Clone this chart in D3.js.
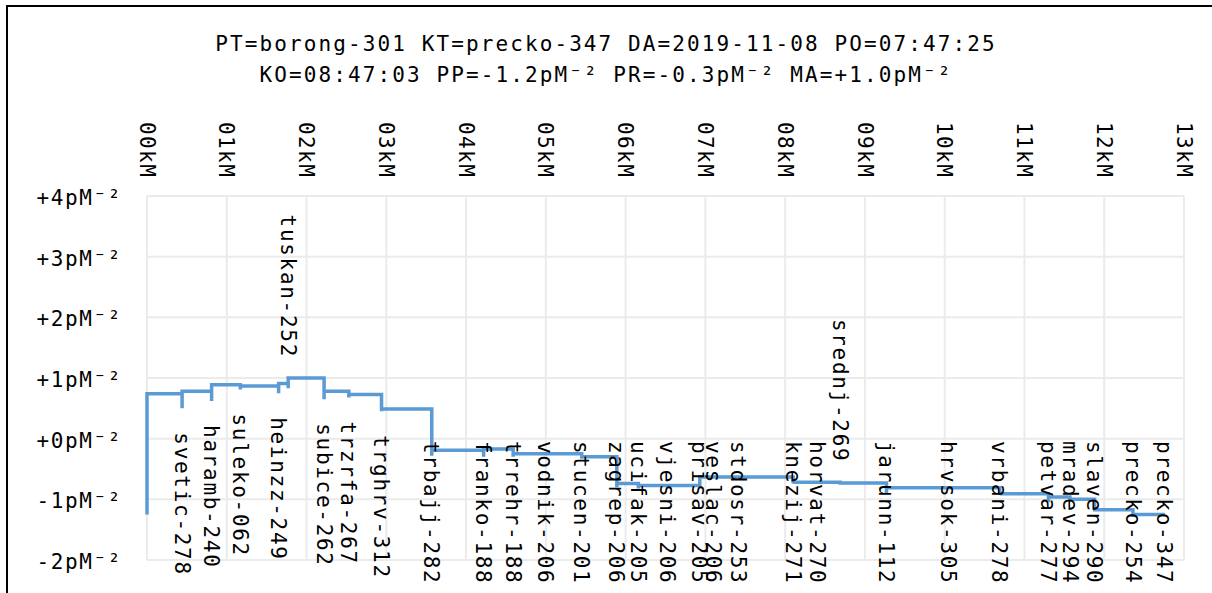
<!DOCTYPE html>
<html>
<head>
<meta charset="utf-8">
<script src="https://cdn.jsdelivr.net/npm/d3@7"></script>
<style>
  body { margin: 0; background: #fff; }
  text { font-family: "DejaVu Sans Mono", monospace; fill: #000; }
</style>
</head>
<body>
<script>
const titleLines = [
  'PT=borong-301 KT=precko-347 DA=2019-11-08 PO=07:47:25',
  'KO=08:47:03 PP=-1.2pM⁻² PR=-0.3pM⁻² MA=+1.0pM⁻²'
]

// start of the run (borong-301)
const startKm = 0
const startValue = -1.25
const startLevel = 0.74

const stations = ['svetic-278', 'haramb-240', 'suleko-062', 'heinzz-249', 'tuskan-252',
  'subice-262', 'trzrfa-267', 'trghrv-312', 'trbajj-282', 'franko-188', 'trrehr-188',
  'vodnik-206', 'stucen-201', 'zagrep-206', 'ucifak-205', 'vjesni-206', 'prisav-205',
  'veslac-206', 'stdosr-253', 'knezij-271', 'horvat-270', 'srednj-269', 'jarunn-112',
  'hrvsok-305', 'vrbani-278', 'petvar-277', 'mradev-294', 'slaven-290', 'precko-254',
  'precko-347']
const stationKm = [0.44, 0.81, 1.17, 1.65, 1.77, 2.22, 2.53, 2.94, 3.57, 4.22, 4.59,
  4.99, 5.45, 5.89, 6.16, 6.52, 6.93, 7.10, 7.41, 8.10, 8.40, 8.69, 9.27,
  10.04, 10.69, 11.30, 11.57, 11.88, 12.36, 12.76]
const stationDip = [0.50, 0.62, 0.81, 0.75, 0.83, 0.65, 0.68, 0.45, -0.28, -0.30, -0.30,
  -0.25, -0.33, -0.80, -0.82, -0.77, -0.80, -0.63, -0.63, -0.74, -0.72, -0.73, -0.90,
  -0.81, -0.93, -1.05, -1.00, -1.17, -1.29, -1.25]
const stationLevel = [0.78, 0.89, 0.87, 0.91, 1.00, 0.78, 0.73, 0.49, -0.19, -0.17, -0.25,
  -0.25, -0.30, -0.74, -0.77, -0.77, -0.63, -0.63, -0.63, -0.72, -0.72, -0.73, -0.81,
  -0.81, -0.91, -0.96, -1.00, -1.17, -1.25, -1.25]
const aboveLabels = ['tuskan-252', 'srednj-269']

const xTicks = [0, 1, 2, 3, 4, 5, 6, 7, 8, 9, 10, 11, 12, 13]
const yTicks = [-2, -1, 0, 1, 2, 3, 4]

const width = 1212
const height = 593
const plot = { left: 147, right: 1184, top: 196, bottom: 560 }
const fontSize = 21

const svg = d3.select('body').append('svg')
  .attr('width', width)
  .attr('height', height)

const xScale = d3.scaleLinear()
  .domain([0, 13])
  .range([plot.left, plot.right])

const yScale = d3.scaleLinear()
  .domain([-2, 4])
  .range([plot.bottom, plot.top])

// outer frame (only top and left fall inside the window)
svg.append('path')
  .attr('d', `M7,${height} V6 H${width}`)
  .attr('fill', 'none')
  .attr('stroke', '#000')
  .attr('stroke-width', 2)

// title
svg.append('g').selectAll('text')
  .data(titleLines)
  .join('text')
  .attr('x', width / 2)
  .attr('y', (d, i) => 51 + i * 31)
  .attr('text-anchor', 'middle')
  .style('font-size', fontSize + 'px')
  .style('letter-spacing', '2.1px')
  .text(d => d)

// grid
const grid = svg.append('g')
  .attr('stroke', '#ebebeb')
  .attr('stroke-width', 2)

grid.selectAll('.vgrid')
  .data(xTicks)
  .join('line')
  .attr('class', 'vgrid')
  .attr('x1', d => xScale(d))
  .attr('x2', d => xScale(d))
  .attr('y1', plot.top)
  .attr('y2', plot.bottom)

grid.selectAll('.hgrid')
  .data(yTicks)
  .join('line')
  .attr('class', 'hgrid')
  .attr('x1', plot.left)
  .attr('x2', plot.right)
  .attr('y1', d => yScale(d))
  .attr('y2', d => yScale(d))

// top axis labels, rotated
const kmFormat = d => d3.format('02d')(d) + 'kM'
svg.append('g').selectAll('text')
  .data(xTicks)
  .join('text')
  .attr('transform', d => `translate(${xScale(d)}, 122) rotate(90)`)
  .attr('dy', '0.35em')
  .style('font-size', fontSize + 'px')
  .style('letter-spacing', '1.4px')
  .text(kmFormat)

// left axis labels
const pmFormat = d => (d < 0 ? '-' : '+') + Math.abs(d) + 'pM⁻²'
svg.append('g').selectAll('text')
  .data(yTicks)
  .join('text')
  .attr('x', 122)
  .attr('y', d => yScale(d) + 9)
  .attr('text-anchor', 'end')
  .style('font-size', fontSize + 'px')
  .style('letter-spacing', '1.6px')
  .text(pmFormat)

// step line with a dip marker at each station
const points = [[startKm, startValue], [startKm, startLevel]]
let prev = startLevel
stations.forEach((s, i) => {
  points.push([stationKm[i], prev])
  points.push([stationKm[i], stationDip[i]])
  points.push([stationKm[i], stationLevel[i]])
  prev = stationLevel[i]
})

const line = d3.line()
  .x(d => xScale(d[0]))
  .y(d => yScale(d[1]))

svg.append('path')
  .datum(points)
  .attr('d', line)
  .attr('fill', 'none')
  .attr('stroke', '#5b9bd5')
  .attr('stroke-width', 3.5)
  .attr('stroke-linejoin', 'miter')

// station labels
const labelFloor = 441
let before = startLevel
const labelData = stations.map((s, i) => {
  const low = Math.min(before, stationDip[i], stationLevel[i])
  const high = Math.max(before, stationLevel[i])
  before = stationLevel[i]
  return { name: s, km: stationKm[i], low, high, above: aboveLabels.includes(s) }
})

svg.append('g').selectAll('text')
  .data(labelData)
  .join('text')
  .attr('transform', d => {
    const y = d.above ? yScale(d.high) - 20 : Math.min(yScale(d.low) + 24, labelFloor)
    return `translate(${xScale(d.km)}, ${y}) rotate(90)`
  })
  .attr('text-anchor', d => d.above ? 'end' : 'start')
  .attr('dy', '0.35em')
  .style('font-size', fontSize + 'px')
  .style('letter-spacing', '1.7px')
  .text(d => d.name)
</script>
</body>
</html>
